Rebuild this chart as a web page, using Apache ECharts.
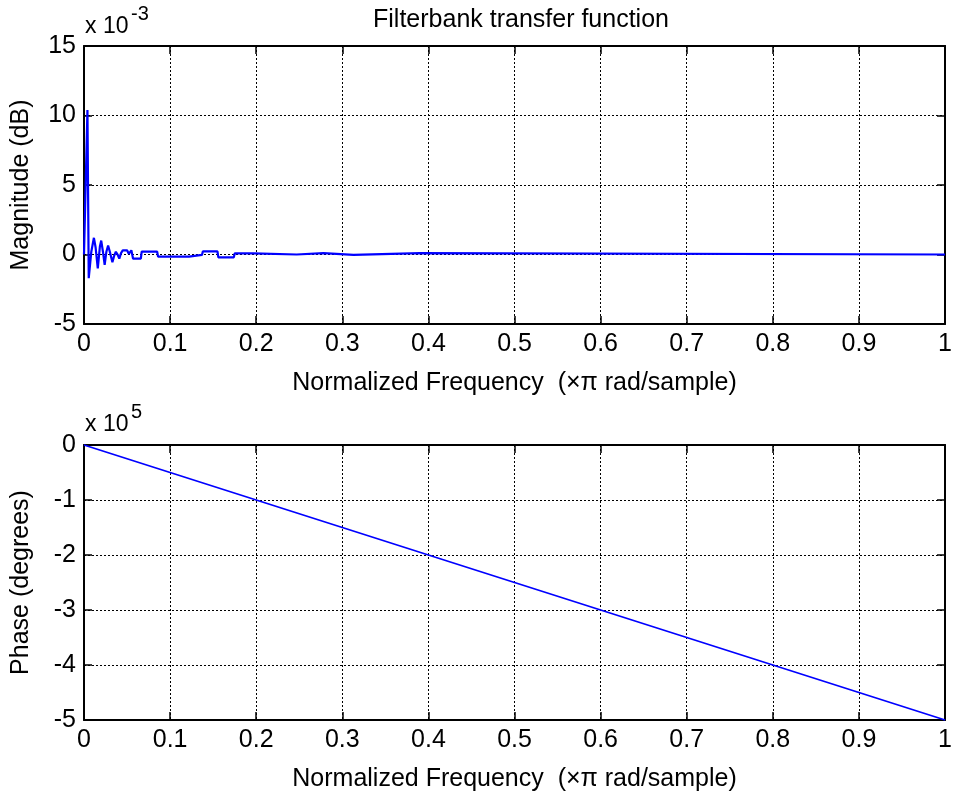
<!DOCTYPE html>
<html>
<head>
<meta charset="utf-8">
<script src="https://cdn.jsdelivr.net/npm/echarts@6/dist/echarts.min.js"></script>
<style>html,body{margin:0;padding:0;background:#fff;}#c{width:955px;height:796px;}</style>
</head>
<body>
<div id="c"></div>
<script>
// Magnitude (units of 1e-3 dB) vs normalized frequency
var magFreq = [0, 0.004, 0.0055, 0.0085, 0.0115, 0.0135, 0.016, 0.0185, 0.020, 0.022, 0.024, 0.026, 0.028, 0.030, 0.033, 0.035, 0.037, 0.039, 0.041, 0.043, 0.045, 0.050, 0.052, 0.055, 0.056, 0.057, 0.066, 0.067, 0.085, 0.086, 0.122, 0.123, 0.137, 0.138, 0.155, 0.156, 0.174, 0.175, 0.197, 0.198, 0.247, 0.248, 0.278, 0.279, 0.313, 0.314, 0.390, 0.391, 1.0];
var magVal  = [0, 10.4, -1.7, 0.2, 1.2, 0.5, -1.0, 0.6, 1.0, 0.2, -0.75, 0.2, 0.65, 0.2, -0.55, -0.1, 0.2, 0.0, -0.3, 0.1, 0.3, 0.3, 0.05, 0.3, 0.3, -0.3, -0.3, 0.2, 0.2, -0.15, -0.15, -0.03, -0.03, 0.22, 0.22, -0.2, -0.2, 0.08, 0.08, 0.0, 0.0, 0.1, 0.1, -0.02, -0.02, 0.1, 0.1, 0.0, 0.0];
// Phase (units of 1e5 degrees)
var phaseFreq = [0, 0.1, 0.2, 0.3, 0.4, 0.5, 0.6, 0.7, 0.8, 0.9, 1.0];
var phaseVal  = [0, -0.5, -1.0, -1.5, -2.0, -2.5, -3.0, -3.5, -4.0, -4.5, -5.0];
var xTicks = [0, 1, 0.1];
var magTicks = [-5, 15, 5];
var phaseTicks = [-5, 0, 1];

var FONT = 'Liberation Sans, Arial, Helvetica, sans-serif';
var FS = 25;
var chart = echarts.init(document.getElementById('c'), null, {renderer: 'canvas'});

function pairs(xs, ys) { return xs.map(function (x, i) { return [x, ys[i]]; }); }

function xMain(gi) {
  return {
    gridIndex: gi, type: 'value', min: xTicks[0], max: xTicks[1], interval: xTicks[2], position: 'bottom',
    axisLine: {show: true, onZero: false, lineStyle: {color: '#000', width: 2}},
    axisTick: {show: true, inside: true, length: 8, lineStyle: {color: '#000', width: 1.5}},
    axisLabel: {show: true, margin: 8, color: '#000', fontSize: FS, fontFamily: FONT},
    splitLine: {show: true, lineStyle: {color: '#000', type: [2, 2], width: 1}},
    name: 'Normalized Frequency  (\u00d7\u03c0 rad/sample)', nameLocation: 'middle', nameGap: 47,
    nameTextStyle: {color: '#000', fontSize: FS, fontFamily: FONT}
  };
}
function xTop(gi) {
  return {
    gridIndex: gi, type: 'value', min: xTicks[0], max: xTicks[1], interval: xTicks[2], position: 'top',
    axisLine: {show: true, onZero: false, lineStyle: {color: '#000', width: 2}},
    axisTick: {show: true, inside: true, length: 8, lineStyle: {color: '#000', width: 1.5}},
    axisLabel: {show: false}, splitLine: {show: false}
  };
}
function yMain(gi, t, name) {
  return {
    gridIndex: gi, type: 'value', min: t[0], max: t[1], interval: t[2], position: 'left',
    axisLine: {show: true, onZero: false, lineStyle: {color: '#000', width: 2}},
    axisTick: {show: true, inside: true, length: 8, lineStyle: {color: '#000', width: 1.5}},
    axisLabel: {show: true, margin: 8, color: '#000', fontSize: FS, fontFamily: FONT},
    splitLine: {show: true, lineStyle: {color: '#000', type: [2, 2], width: 1}},
    name: name, nameLocation: 'middle', nameGap: 50, nameRotate: 90,
    nameTextStyle: {color: '#000', fontSize: FS, fontFamily: FONT}
  };
}
function yRight(gi, t) {
  return {
    gridIndex: gi, type: 'value', min: t[0], max: t[1], interval: t[2], position: 'right',
    axisLine: {show: true, onZero: false, lineStyle: {color: '#000', width: 2}},
    axisTick: {show: true, inside: true, length: 8, lineStyle: {color: '#000', width: 1.5}},
    axisLabel: {show: false}, splitLine: {show: false}
  };
}

var option = {
  backgroundColor: '#fff',
  animation: false,
  title: {
    text: 'Filterbank transfer function', left: 516, top: 3, textAlign: 'center',
    textStyle: {color: '#000', fontSize: FS, fontWeight: 'normal', fontFamily: FONT}
  },
  grid: [
    {left: 84, right: 6, top: 46, height: 278},
    {left: 84, right: 6, top: 445, height: 275}
  ],
  xAxis: [xMain(0), xTop(0), xMain(1), xTop(1)],
  yAxis: [yMain(0, magTicks, 'Magnitude (dB)'), yRight(0, magTicks), yMain(1, phaseTicks, 'Phase (degrees)'), yRight(1, phaseTicks)],
  series: [
    {type: 'line', xAxisIndex: 0, yAxisIndex: 0, data: pairs(magFreq, magVal), showSymbol: false,
     lineStyle: {color: '#0000ff', width: 2.2}, itemStyle: {color: '#0000ff'}},
    {type: 'line', xAxisIndex: 2, yAxisIndex: 2, data: pairs(phaseFreq, phaseVal), showSymbol: false,
     lineStyle: {color: '#0000ff', width: 1.8}, itemStyle: {color: '#0000ff'}}
  ],
  graphic: [
    {type: 'text', left: 85, top: 15, style: {text: 'x 10', fontSize: 23, fontFamily: FONT, fill: '#000'}},
    {type: 'text', left: 131, top: 4, style: {text: '-3', fontSize: 20, fontFamily: FONT, fill: '#000'}},
    {type: 'text', left: 85, top: 413, style: {text: 'x 10', fontSize: 23, fontFamily: FONT, fill: '#000'}},
    {type: 'text', left: 131, top: 402, style: {text: '5', fontSize: 20, fontFamily: FONT, fill: '#000'}}
  ]
};
chart.setOption(option);
</script>
</body>
</html>
